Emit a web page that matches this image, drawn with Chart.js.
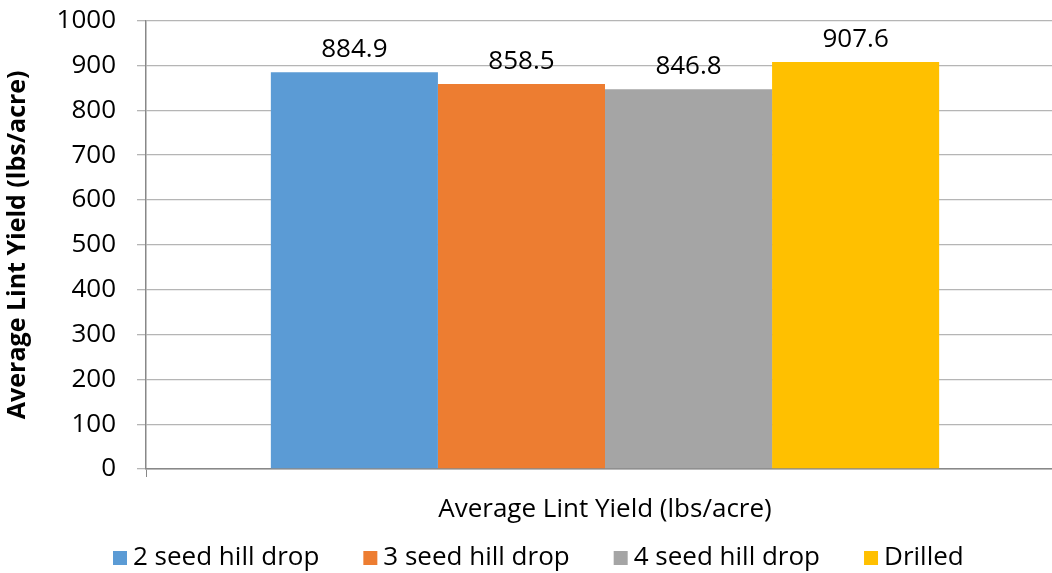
<!DOCTYPE html>
<html>
<head>
<meta charset="utf-8">
<script src="https://cdn.jsdelivr.net/npm/chart.js@4"></script>
<style>
html,body{margin:0;padding:0;background:#fff;overflow:hidden;}
#wrap{position:absolute;left:0;top:-16px;width:1064px;height:589px;}
</style>
</head>
<body>
<div id="wrap"><canvas id="c"></canvas></div>
<script>
const categories = ["Average Lint Yield (lbs/acre)"];
const seriesNames = ["2 seed hill drop", "3 seed hill drop", "4 seed hill drop", "Drilled"];
const seriesValues = [[884.9], [858.5], [846.8], [907.6]];
const seriesColors = ["#5B9BD5", "#ED7D31", "#A5A5A5", "#FFC000"];
const yTitle = "Average Lint Yield (lbs/acre)";
const yMin = 0, yMax = 1000, yStep = 100;

const FONT = "'Open Sans', sans-serif";

const labelPlugin = {
  id: 'valueLabels',
  afterDatasetsDraw(chart) {
    const ctx = chart.ctx;
    ctx.save();
    ctx.font = "26px " + FONT;
    ctx.fillStyle = "#000";
    ctx.textAlign = "center";
    ctx.textBaseline = "alphabetic";
    chart.data.datasets.forEach((ds, i) => {
      const meta = chart.getDatasetMeta(i);
      meta.data.forEach((bar, j) => {
        ctx.fillText(ds.data[j].toFixed(1), bar.x, bar.y - 15);
      });
    });
    ctx.restore();
  }
};

const legendPlugin = {
  id: 'customLegend',
  afterDraw(chart) {
    const ctx = chart.ctx;
    ctx.save();
    ctx.font = "26px " + FONT;
    ctx.textBaseline = "middle";
    ctx.textAlign = "left";
    let x = 113;
    const yc = chart.height - 15;
    chart.data.datasets.forEach((ds) => {
      ctx.fillStyle = ds.backgroundColor;
      ctx.fillRect(x, yc - 7, 14, 14);
      ctx.fillStyle = "#000";
      ctx.fillText(ds.label, x + 20, yc);
      x += 20 + ctx.measureText(ds.label).width + 44;
    });
    ctx.restore();
  }
};

new Chart(document.getElementById('c'), {
  type: 'bar',
  data: {
    labels: categories,
    datasets: seriesNames.map((n, i) => ({
      label: n,
      data: seriesValues[i],
      backgroundColor: seriesColors[i],
      borderWidth: 0,
      categoryPercentage: 0.728,
      barPercentage: 1
    }))
  },
  options: {
    responsive: true,
    maintainAspectRatio: false,
    animation: false,
    layout: { padding: { top: 4, right: 0, bottom: 40, left: 0 } },
    plugins: {
      legend: { display: false },
      tooltip: { enabled: false }
    },
    scales: {
      x: {
        grid: { display: true, drawOnChartArea: false, drawTicks: true, tickLength: 8, color: '#888', offset: true },
        border: { color: '#888', width: 1.5 },
        ticks: { font: { family: FONT, size: 26 }, color: '#000', padding: 17 },
        afterFit(s) { s.height = 64; }
      },
      y: {
        min: yMin, max: yMax,
        ticks: { stepSize: yStep, font: { family: FONT, size: 26 }, color: '#000', padding: 21,
                 callback: (v) => String(v) },
        grid: { color: '#b5b5b5', lineWidth: 1.3, tickLength: 9 },
        border: { color: '#888', width: 1.5 },
        title: { display: true, text: yTitle, font: { family: FONT, size: 25, weight: 'bold' }, color: '#000', padding: { top: 3, bottom: 0 } },
        afterFit(s) { s.width = 146; }
      }
    }
  },
  plugins: [labelPlugin, legendPlugin]
});
</script>
</body>
</html>
